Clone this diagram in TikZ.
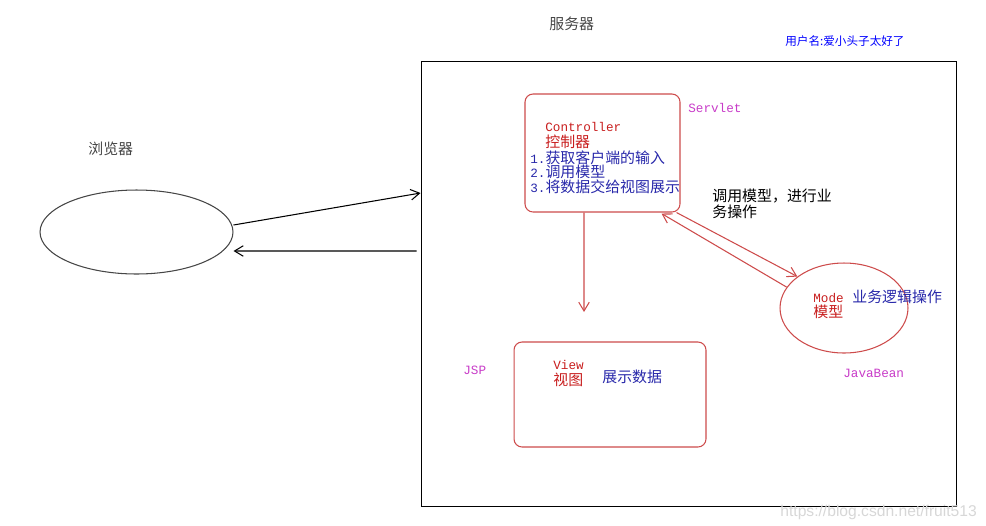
\documentclass[tikz,border=0pt]{standalone}
\usepackage{fontspec}
\setmonofont{Liberation Mono}
\newfontfamily\cjk{Noto Sans CJK SC}
\newfontfamily\wmfont{Liberation Sans}
\usetikzlibrary{shapes.geometric, arrows.meta}
\definecolor{boxred}{RGB}{205,75,75}
\definecolor{txtred}{RGB}{200,30,30}
\definecolor{txtblue}{RGB}{40,40,170}
\definecolor{tagpink}{RGB}{200,60,200}
\definecolor{inkgray}{RGB}{70,70,70}
\definecolor{markgray}{RGB}{215,215,215}
\newcommand{\stepno}[1]{{\ttfamily\fontsize{7.2}{8.5}\selectfont #1}}
\tikzstyle{frame} = [rectangle, draw=black, line width=0.6pt, minimum width=10.72cm, minimum height=8.92cm, inner sep=0pt]
\tikzstyle{mvc} = [rectangle, rounded corners=0.16cm, draw=boxred, line width=0.6pt, inner sep=0pt]
\tikzstyle{blob} = [ellipse, line width=0.6pt, inner sep=0pt]
\tikzstyle{zh} = [inner sep=0pt, anchor=west, font=\cjk\fontsize{8.5}{8.5}\selectfont]
\tikzstyle{en} = [inner sep=0pt, anchor=west, font=\ttfamily\fontsize{7.2}{7.2}\selectfont]
\tikzstyle{arrow} = [line width=0.6pt, -{Straight Barb[length=5pt,width=6pt]}]

\begin{document}
\begin{tikzpicture}[x=0.02cm, y=-0.02cm]
\useasboundingbox (0,0) rectangle (986,525);
% boxes
\node (server) [frame] at (689,284) {};
\node (browser) [blob, draw=inkgray, minimum width=3.86cm, minimum height=1.68cm] at (136.5,232) {};
\node (ctrl) [mvc, minimum width=3.1cm, minimum height=2.36cm] at (602.5,153) {};
\node (view) [mvc, minimum width=3.84cm, minimum height=2.1cm] at (610,394.5) {};
\node (model) [blob, draw=boxred, minimum width=2.56cm, minimum height=1.8cm] at (844,308) {};
\coordinate (viewtip) at (584,312);
% titles
\node (servertitle) [zh, text=inkgray] at (549,24) {服务器};
\node (browsertitle) [zh, text=inkgray] at (88,149) {浏览器};
\node (username) [zh, text=blue, font=\cjk\fontsize{6.6}{6.6}\selectfont] at (785,41) {用户名:爱小头子太好了};
% controller
\node (ctrlen) [en, text=txtred] at (545,127) {Controller};
\node (ctrlzh) [zh, text=txtred] at (545,142) {控制器};
\node (step1) [zh, text=txtblue] at (530,158) {\stepno{1.}获取客户端的输入};
\node (step2) [zh, text=txtblue] at (530,172) {\stepno{2.}调用模型};
\node (step3) [zh, text=txtblue] at (530,187) {\stepno{3.}将数据交给视图展示};
\node (servlet) [en, text=tagpink] at (688,108) {Servlet};
\node (calllbl) [zh] at (712,196) {调用模型，进行业};
\node (calllbl2) [zh] at (712,212) {务操作};
% model
\node (modelen) [en, text=txtred] at (813,298) {Mode};
\node (modelzh) [zh, text=txtred] at (813,312) {模型};
\node (modelnote) [zh, text=txtblue] at (852,297) {业务逻辑操作};
\node (javabean) [en, text=tagpink] at (843,373) {JavaBean};
% view
\node (viewen) [en, text=txtred] at (553,365) {View};
\node (viewzh) [zh, text=txtred] at (553,380) {视图};
\node (viewnote) [zh, text=txtblue] at (602,377) {展示数据};
\node (jsp) [en, text=tagpink] at (463,370) {JSP};
\node (wmark) [inner sep=0pt, anchor=west, text=markgray, font=\wmfont\fontsize{8.9}{8.9}\selectfont] at (780,512) {https://blog.csdn.net/fruit513};
% connectors
\draw [arrow] ([yshift=0.14cm]browser.east) -- ([yshift=1.82cm]server.west);
\draw [arrow] ([xshift=-0.08cm, yshift=0.66cm]server.west) -- ([yshift=-0.38cm]browser.east);
\draw [arrow, boxred] ([xshift=-0.37cm]ctrl.south) -- (viewtip);
\draw [arrow, boxred] ([xshift=-0.08cm]ctrl.south east) -- (model.146);
\draw [arrow, boxred] (model.160) -- ([xshift=-0.38cm, yshift=-0.02cm]ctrl.south east);
\end{tikzpicture}
\end{document}
